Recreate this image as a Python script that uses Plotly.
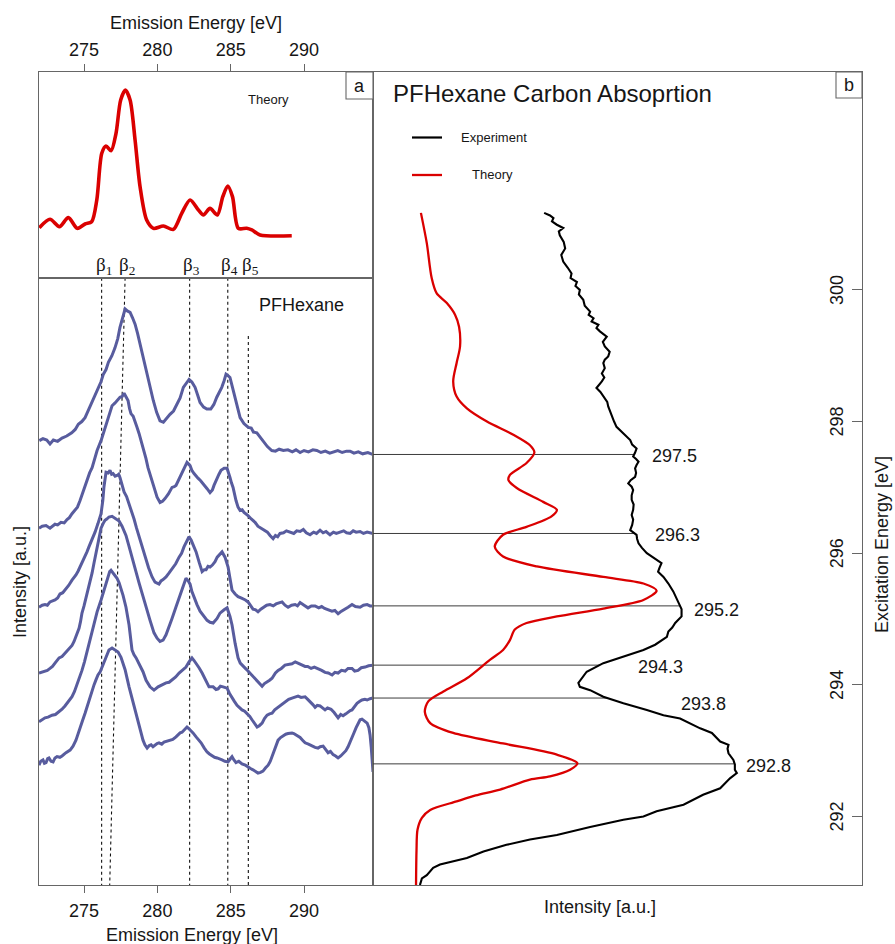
import numpy as np
import plotly.graph_objects as go

# ---------------------------------------------------------------- data
emission_ticks = [275, 280, 285, 290]
excitation_ticks = [292, 294, 296, 298, 300]

# panel a, top: calculated emission spectrum (arb. units)
theory_emission_energy = [271.95, 272.68, 273.32, 273.93, 274.54, 275.07, 275.52, 275.87, 276.21, 276.50,
                          276.84, 277.18, 277.50, 277.82, 278.14, 278.48, 278.82, 279.27, 279.73, 280.41,
                          281.09, 281.66, 282.23, 282.80, 283.14, 283.59, 284.09, 284.46, 284.80, 285.12,
                          285.52, 286.09, 286.44, 287.00, 289.16]
theory_emission_intensity = [2.43, 2.84, 2.48, 2.92, 2.40, 2.61, 2.72, 3.78, 6.05, 6.40,
                             6.17, 7.02, 8.64, 9.12, 8.64, 6.69, 4.42, 2.80, 2.40, 2.51,
                             2.35, 3.13, 3.78, 3.29, 3.05, 3.37, 3.05, 3.94, 4.46, 3.94,
                             2.40, 2.40, 2.32, 2.08, 2.04]

# panel a, bottom: measured emission spectra, (emission energy, intensity) per excitation energy
excitation_energies = [297.5, 296.3, 295.2, 294.3, 293.8, 292.8]

spectrum_297_5 = [
    (271.95, 0.21), (272.20, 0.24), (272.46, 0.22), (272.68, 0.16), (272.91, 0.22), (273.20, 0.20),
    (273.50, 0.25), (273.82, 0.28), (274.16, 0.33), (274.40, 0.38), (274.61, 0.46), (274.85, 0.50),
    (275.07, 0.56), (275.25, 0.65), (275.41, 0.74), (275.70, 0.86), (275.98, 1.02), (276.15, 1.10),
    (276.32, 1.22), (276.50, 1.29), (276.66, 1.40), (276.90, 1.50), (277.11, 1.62), (277.30, 1.76),
    (277.45, 1.93), (277.65, 2.10), (277.80, 2.21), (277.95, 2.18), (278.14, 2.16), (278.30, 2.08),
    (278.48, 1.98), (278.65, 1.84), (278.82, 1.67), (279.05, 1.45), (279.27, 1.22), (279.50, 1.02),
    (279.72, 0.82), (279.95, 0.64), (280.18, 0.51), (280.41, 0.49), (280.62, 0.55), (280.86, 0.61),
    (281.10, 0.66), (281.32, 0.76), (281.55, 0.86), (281.77, 1.02), (281.95, 1.08), (282.16, 1.14),
    (282.35, 1.10), (282.57, 1.02), (282.75, 0.90), (282.91, 0.79), (283.15, 0.72), (283.37, 0.69),
    (283.64, 0.69), (283.85, 0.76), (284.05, 0.87), (284.25, 0.95), (284.39, 1.02), (284.55, 1.12),
    (284.68, 1.22), (284.80, 1.20), (284.95, 1.17), (285.12, 1.02), (285.30, 0.87), (285.47, 0.70),
    (285.64, 0.56), (285.90, 0.47), (286.20, 0.41), (286.40, 0.40), (286.55, 0.34), (286.78, 0.33),
    (287.00, 0.27), (287.22, 0.21), (287.50, 0.12), (287.80, 0.06), (288.05, 0.05), (288.30, 0.08),
    (288.59, 0.06), (288.90, 0.07), (289.20, 0.04), (289.45, 0.07), (289.73, 0.03), (290.00, 0.06),
    (290.30, 0.04), (290.60, 0.07), (290.87, 0.06), (291.15, 0.03), (291.45, 0.05), (291.75, 0.02),
    (292.00, 0.04), (292.30, 0.06), (292.60, 0.03), (292.90, 0.05), (293.14, 0.05), (293.40, 0.02),
    (293.70, 0.04), (294.00, 0.01), (294.35, 0.03), (294.68, 0.00)]

spectrum_296_3 = [
    (271.93, 0.08), (272.15, 0.11), (272.41, 0.12), (272.68, 0.08), (273.02, 0.14), (273.20, 0.13),
    (273.43, 0.17), (273.65, 0.16), (273.84, 0.21), (274.00, 0.24), (274.18, 0.30), (274.39, 0.35),
    (274.55, 0.40), (274.73, 0.50), (275.00, 0.68), (275.20, 0.81), (275.38, 0.92), (275.55, 1.00),
    (275.70, 1.12), (275.89, 1.26), (276.16, 1.41), (276.35, 1.55), (276.57, 1.72), (276.75, 1.85),
    (276.91, 1.94), (277.10, 1.98), (277.25, 2.02), (277.45, 2.07), (277.60, 2.08), (277.73, 2.13),
    (277.85, 2.08), (278.00, 2.02), (278.10, 1.90), (278.20, 1.82), (278.35, 1.78), (278.48, 1.71),
    (278.60, 1.62), (278.75, 1.52), (278.90, 1.40), (279.09, 1.26), (279.22, 1.14), (279.36, 1.00),
    (279.52, 0.88), (279.70, 0.76), (279.85, 0.64), (279.98, 0.55), (280.18, 0.47), (280.35, 0.49),
    (280.52, 0.53), (280.75, 0.60), (281.00, 0.70), (281.15, 0.71), (281.27, 0.73), (281.40, 0.79),
    (281.55, 0.85), (281.70, 0.92), (281.82, 0.99), (282.02, 1.08), (282.23, 1.03), (282.35, 0.96),
    (282.50, 0.91), (282.65, 0.86), (282.77, 0.84), (282.95, 0.80), (283.11, 0.76), (283.25, 0.72),
    (283.39, 0.68), (283.59, 0.62), (283.75, 0.66), (283.86, 0.73), (284.07, 0.85), (284.20, 0.90),
    (284.34, 0.96), (284.55, 0.99), (284.75, 0.99), (284.85, 0.93), (284.95, 0.85), (285.05, 0.77),
    (285.16, 0.70), (285.36, 0.50), (285.50, 0.40), (285.64, 0.35), (285.78, 0.36), (285.91, 0.32),
    (286.05, 0.30), (286.18, 0.27), (286.40, 0.22), (286.66, 0.17), (286.85, 0.11), (287.00, 0.09),
    (287.20, 0.07), (287.34, 0.05), (287.50, 0.02), (287.68, -0.03), (287.89, -0.08), (288.05, -0.03),
    (288.20, -0.05), (288.36, 0.00), (288.60, 0.01), (288.80, 0.04), (289.05, 0.02), (289.30, 0.00),
    (289.50, 0.04), (289.73, 0.03), (289.95, 0.06), (290.15, 0.01), (290.41, -0.02), (290.65, 0.02),
    (290.85, 0.00), (291.09, 0.05), (291.30, 0.01), (291.50, 0.03), (291.77, -0.02), (292.00, 0.02),
    (292.20, 0.00), (292.45, 0.02), (292.70, 0.04), (292.90, 0.01), (293.14, 0.00), (293.35, 0.04),
    (293.55, 0.02), (293.82, 0.03), (294.05, 0.00), (294.30, 0.02), (294.50, 0.01), (294.70, 0.00)]

spectrum_295_2 = [
    (271.93, -0.02), (272.15, 0.01), (272.34, 0.02), (272.50, 0.01), (272.68, 0.06), (272.85, 0.07),
    (273.02, 0.09), (273.20, 0.12), (273.36, 0.18), (273.55, 0.20), (273.77, 0.26), (273.95, 0.31),
    (274.18, 0.39), (274.30, 0.42), (274.45, 0.47), (274.60, 0.53), (274.73, 0.59), (274.90, 0.66),
    (275.07, 0.74), (275.20, 0.82), (275.34, 0.90), (275.55, 1.00), (275.75, 1.12), (275.95, 1.25),
    (276.16, 1.40), (276.28, 1.60), (276.36, 1.81), (276.50, 2.03), (276.65, 2.02), (276.77, 2.06),
    (276.88, 2.00), (276.98, 2.01), (277.12, 1.97), (277.25, 1.98), (277.36, 2.00), (277.45, 1.95),
    (277.60, 1.82), (277.73, 1.73), (277.90, 1.66), (278.07, 1.55), (278.25, 1.43), (278.41, 1.32),
    (278.58, 1.18), (278.75, 1.05), (278.95, 0.90), (279.16, 0.74), (279.40, 0.58), (279.64, 0.44),
    (279.84, 0.36), (280.11, 0.33), (280.25, 0.38), (280.39, 0.40), (280.59, 0.44), (280.80, 0.50),
    (281.00, 0.56), (281.25, 0.64), (281.48, 0.74), (281.65, 0.80), (281.82, 0.90), (282.00, 0.98),
    (282.16, 1.05), (282.30, 1.00), (282.43, 0.93), (282.64, 0.82), (282.85, 0.66), (283.05, 0.52),
    (283.20, 0.55), (283.32, 0.55), (283.45, 0.60), (283.59, 0.59), (283.75, 0.62), (283.93, 0.67),
    (284.08, 0.74), (284.20, 0.77), (284.41, 0.82), (284.61, 0.74), (284.82, 0.59), (284.95, 0.42),
    (285.09, 0.24), (285.30, 0.18), (285.50, 0.14), (285.70, 0.12), (285.84, 0.11), (286.00, 0.09),
    (286.18, 0.06), (286.35, 0.00), (286.52, -0.05), (286.70, -0.06), (286.86, -0.09), (287.05, -0.05),
    (287.27, -0.02), (287.45, 0.01), (287.68, 0.02), (287.90, 0.00), (288.09, 0.03), (288.30, 0.05),
    (288.50, 0.06), (288.70, 0.01), (288.91, -0.02), (289.15, 0.01), (289.39, 0.02), (289.55, 0.00),
    (289.73, 0.05), (290.00, 0.01), (290.27, -0.03), (290.50, 0.00), (290.75, 0.00), (291.00, -0.03),
    (291.20, -0.01), (291.40, -0.04), (291.64, -0.06), (291.90, -0.08), (292.10, -0.07), (292.32, -0.12),
    (292.55, -0.08), (292.80, -0.05), (293.00, -0.02), (293.27, 0.02), (293.50, -0.01), (293.82, -0.02),
    (294.05, 0.01), (294.30, 0.02), (294.50, 0.00), (294.70, 0.00)]

spectrum_294_3 = [
    (271.93, -0.12), (272.15, -0.10), (272.34, -0.09), (272.50, -0.08), (272.68, -0.05), (272.85, -0.02),
    (273.02, 0.03), (273.15, 0.06), (273.30, 0.11), (273.50, 0.13), (273.70, 0.18), (273.95, 0.24),
    (274.18, 0.30), (274.32, 0.36), (274.45, 0.44), (274.56, 0.49), (274.66, 0.56), (274.76, 0.66),
    (274.86, 0.79), (275.00, 0.90), (275.14, 1.02), (275.27, 1.13), (275.41, 1.25), (275.55, 1.40),
    (275.68, 1.55), (275.82, 1.70), (275.95, 1.85), (276.05, 1.97), (276.16, 2.08), (276.30, 2.15),
    (276.43, 2.20), (276.55, 2.22), (276.70, 2.25), (276.91, 2.26), (277.05, 2.24), (277.18, 2.23),
    (277.39, 2.19), (277.59, 2.11), (277.86, 1.97), (278.05, 1.82), (278.27, 1.63), (278.50, 1.44),
    (278.75, 1.25), (279.00, 1.06), (279.23, 0.87), (279.50, 0.68), (279.77, 0.49), (279.98, 0.41),
    (280.18, 0.36), (280.39, 0.38), (280.59, 0.46), (280.80, 0.58), (281.00, 0.71), (281.25, 0.87),
    (281.48, 1.02), (281.62, 1.12), (281.75, 1.20), (281.95, 1.32), (282.10, 1.28), (282.23, 1.23),
    (282.35, 1.12), (282.50, 1.02), (282.70, 0.92), (282.91, 0.82), (283.15, 0.74), (283.39, 0.68),
    (283.59, 0.65), (283.80, 0.64), (284.07, 0.71), (284.27, 0.79), (284.55, 0.84), (284.75, 0.87),
    (284.95, 0.74), (285.09, 0.61), (285.30, 0.33), (285.50, 0.11), (285.65, 0.03), (285.84, -0.02),
    (286.00, -0.05), (286.18, -0.09), (286.40, -0.14), (286.66, -0.20), (286.90, -0.26), (287.14, -0.32),
    (287.30, -0.28), (287.48, -0.26), (287.65, -0.23), (287.82, -0.20), (288.05, -0.12), (288.23, -0.08),
    (288.45, -0.05), (288.70, 0.00), (288.95, 0.01), (289.18, 0.02), (289.40, 0.05), (289.59, 0.03),
    (289.80, 0.00), (290.07, -0.02), (290.25, -0.02), (290.48, -0.05), (290.70, -0.03), (290.95, -0.05),
    (291.20, -0.08), (291.43, -0.11), (291.65, -0.12), (291.91, -0.15), (292.10, -0.11), (292.32, -0.12),
    (292.55, -0.08), (292.80, -0.09), (293.00, -0.05), (293.27, -0.05), (293.45, -0.09), (293.68, -0.08),
    (293.90, -0.04), (294.16, -0.03), (294.40, -0.01), (294.70, 0.00)]

spectrum_293_8 = [
    (271.93, -0.36), (272.15, -0.32), (272.34, -0.30), (272.55, -0.29), (272.82, -0.26), (273.05, -0.25),
    (273.30, -0.21), (273.50, -0.17), (273.70, -0.12), (273.95, -0.05), (274.18, 0.02), (274.35, 0.10),
    (274.52, 0.20), (274.70, 0.30), (274.86, 0.42), (275.03, 0.55), (275.20, 0.70), (275.38, 0.86),
    (275.55, 1.03), (275.72, 1.18), (275.89, 1.31), (276.16, 1.49), (276.30, 1.60), (276.43, 1.69),
    (276.64, 1.87), (276.75, 1.92), (276.84, 1.94), (276.98, 1.90), (277.11, 1.87), (277.25, 1.82),
    (277.39, 1.75), (277.52, 1.66), (277.66, 1.56), (277.86, 1.38), (278.07, 1.11), (278.27, 0.73),
    (278.40, 0.66), (278.55, 0.61), (278.75, 0.53), (279.02, 0.40), (279.23, 0.27), (279.50, 0.17),
    (279.77, 0.12), (280.05, 0.17), (280.32, 0.20), (280.59, 0.23), (280.80, 0.24), (281.00, 0.27),
    (281.25, 0.32), (281.48, 0.38), (281.75, 0.43), (281.95, 0.47), (282.16, 0.55), (282.36, 0.61),
    (282.50, 0.57), (282.64, 0.53), (282.84, 0.46), (283.05, 0.38), (283.32, 0.27), (283.52, 0.17),
    (283.80, 0.17), (284.00, 0.13), (284.14, 0.14), (284.30, 0.18), (284.48, 0.17), (284.75, 0.15),
    (284.92, 0.07), (285.09, 0.00), (285.25, -0.05), (285.43, -0.11), (285.60, -0.15), (285.77, -0.18),
    (285.95, -0.20), (286.11, -0.23), (286.30, -0.28), (286.45, -0.33), (286.62, -0.38), (286.80, -0.44),
    (286.95, -0.42), (287.14, -0.38), (287.30, -0.31), (287.48, -0.26), (287.65, -0.24), (287.82, -0.23),
    (288.00, -0.18), (288.23, -0.14), (288.45, -0.10), (288.70, -0.06), (288.95, -0.02), (289.18, 0.00),
    (289.40, 0.02), (289.59, 0.03), (289.80, 0.01), (290.07, 0.02), (290.25, -0.02), (290.41, -0.05),
    (290.60, -0.10), (290.75, -0.14), (290.90, -0.11), (291.09, -0.12), (291.25, -0.15), (291.43, -0.18),
    (291.60, -0.15), (291.84, -0.17), (292.05, -0.22), (292.32, -0.30), (292.50, -0.25), (292.66, -0.27),
    (292.85, -0.24), (293.00, -0.21), (293.15, -0.19), (293.27, -0.18), (293.45, -0.13), (293.61, -0.08),
    (293.80, -0.05), (293.95, -0.03), (294.15, -0.02), (294.30, -0.03), (294.50, -0.01), (294.70, 0.00)]

spectrum_292_8 = [
    (271.93, -0.02), (272.05, 0.04), (272.20, 0.06), (272.30, 0.01), (272.41, 0.02), (272.52, 0.08),
    (272.61, 0.09), (272.75, 0.04), (272.89, 0.03), (273.02, 0.09), (273.16, 0.11), (273.35, 0.10),
    (273.50, 0.12), (273.65, 0.15), (273.77, 0.17), (274.05, 0.21), (274.25, 0.27), (274.45, 0.36),
    (274.60, 0.45), (274.73, 0.55), (274.90, 0.66), (275.07, 0.77), (275.20, 0.87), (275.34, 0.97),
    (275.50, 1.08), (275.68, 1.20), (275.82, 1.28), (275.95, 1.35), (276.10, 1.40), (276.23, 1.47),
    (276.36, 1.55), (276.50, 1.63), (276.70, 1.73), (276.91, 1.76), (277.11, 1.73), (277.32, 1.70),
    (277.52, 1.62), (277.66, 1.53), (277.80, 1.43), (278.07, 1.17), (278.25, 1.02), (278.41, 0.87),
    (278.58, 0.71), (278.75, 0.56), (279.02, 0.36), (279.15, 0.29), (279.30, 0.24), (279.45, 0.28),
    (279.57, 0.29), (279.70, 0.26), (279.84, 0.29), (279.98, 0.31), (280.11, 0.32), (280.30, 0.30),
    (280.45, 0.33), (280.65, 0.34), (280.86, 0.36), (281.05, 0.37), (281.27, 0.41), (281.40, 0.44),
    (281.55, 0.47), (281.68, 0.48), (281.82, 0.52), (282.02, 0.56), (282.12, 0.54), (282.23, 0.52),
    (282.43, 0.47), (282.64, 0.41), (282.80, 0.37), (282.98, 0.32), (283.20, 0.24), (283.39, 0.18),
    (283.55, 0.15), (283.73, 0.12), (283.90, 0.10), (284.07, 0.09), (284.25, 0.08), (284.41, 0.06),
    (284.60, 0.04), (284.82, 0.03), (284.95, 0.07), (285.09, 0.11), (285.22, 0.06), (285.36, 0.02),
    (285.55, 0.04), (285.77, 0.00), (286.00, -0.02), (286.18, -0.05), (286.35, -0.07), (286.52, -0.09),
    (286.70, -0.12), (286.86, -0.14), (287.03, -0.13), (287.20, -0.11), (287.38, -0.06), (287.55, -0.02),
    (287.70, 0.04), (287.82, 0.11), (288.02, 0.21), (288.23, 0.36), (288.40, 0.40), (288.57, 0.43),
    (288.75, 0.45), (288.91, 0.46), (289.18, 0.47), (289.30, 0.46), (289.45, 0.44), (289.60, 0.42),
    (289.73, 0.40), (289.90, 0.36), (290.07, 0.32), (290.30, 0.30), (290.55, 0.27), (290.75, 0.25),
    (290.95, 0.24), (291.10, 0.26), (291.30, 0.27), (291.45, 0.22), (291.64, 0.17), (291.80, 0.19),
    (291.98, 0.14), (292.15, 0.12), (292.32, 0.09), (292.50, 0.12), (292.66, 0.15), (292.85, 0.20),
    (293.00, 0.26), (293.15, 0.33), (293.27, 0.40), (293.42, 0.48), (293.55, 0.55), (293.70, 0.62),
    (293.82, 0.67), (293.95, 0.68), (294.09, 0.65), (294.20, 0.64), (294.30, 0.62), (294.42, 0.55),
    (294.50, 0.44), (294.58, 0.25), (294.64, 0.06), (294.70, -0.12)]

emission_spectra = [spectrum_297_5, spectrum_296_3, spectrum_295_2,
                    spectrum_294_3, spectrum_293_8, spectrum_292_8]

# emission features and their guide lines
beta_labels = ["β<sub>1</sub>", "β<sub>2</sub>", "β<sub>3</sub>", "β<sub>4</sub>", "β<sub>5</sub>"]
beta_energies = [276.2, 277.8, 282.2, 284.8, 286.2]
beta_energies_lowest = [276.2, 276.75, 282.2, 284.8, 286.2]   # guide position at the lowest excitation
beta_guide_start = [None, None, None, None, 299.3]            # excitation energy where a guide begins

# panel b: carbon absorption, measured (excitation energy, intensity)
absorption_experiment_curve = [
    (301.17, 3.50), (301.13, 3.62), (301.09, 3.69), (301.04, 3.66), (300.99, 3.76), (300.94, 3.89),
    (300.89, 3.80), (300.83, 3.82), (300.73, 3.90), (300.63, 3.93), (300.53, 3.85), (300.43, 3.89),
    (300.34, 3.98), (300.25, 4.06), (300.18, 4.04), (300.12, 4.17), (300.06, 4.14), (300.00, 4.23),
    (299.93, 4.21), (299.85, 4.30), (299.76, 4.33), (299.67, 4.44), (299.62, 4.41), (299.57, 4.51),
    (299.52, 4.47), (299.47, 4.61), (299.42, 4.57), (299.37, 4.64), (299.29, 4.78), (299.21, 4.70),
    (299.14, 4.74), (299.06, 4.84), (298.99, 4.81), (298.94, 4.74), (298.89, 4.71), (298.81, 4.74),
    (298.73, 4.68), (298.67, 4.73), (298.61, 4.68), (298.56, 4.62), (298.51, 4.57), (298.45, 4.65),
    (298.38, 4.71), (298.30, 4.79), (298.23, 4.81), (298.15, 4.85), (298.07, 4.88), (298.00, 4.93),
    (297.92, 4.98), (297.82, 5.12), (297.72, 5.26), (297.65, 5.30), (297.59, 5.39), (297.53, 5.36),
    (297.47, 5.32), (297.43, 5.38), (297.39, 5.43), (297.34, 5.39), (297.29, 5.36), (297.22, 5.38),
    (297.16, 5.36), (297.11, 5.27), (297.06, 5.22), (297.01, 5.29), (296.96, 5.32), (296.88, 5.29),
    (296.81, 5.29), (296.74, 5.33), (296.66, 5.32), (296.58, 5.29), (296.51, 5.32), (296.43, 5.30),
    (296.35, 5.26), (296.28, 5.39), (296.22, 5.40), (296.15, 5.43), (296.08, 5.50), (296.00, 5.60),
    (295.95, 5.70), (295.90, 5.80), (295.85, 5.90), (295.78, 5.86), (295.72, 5.83), (295.64, 5.94),
    (295.54, 6.04), (295.42, 6.14), (295.27, 6.24), (295.15, 6.31), (295.04, 6.31), (294.94, 6.18),
    (294.87, 6.12), (294.81, 6.04), (294.73, 6.01), (294.67, 5.90), (294.61, 5.77), (294.53, 5.53),
    (294.43, 5.12), (294.33, 4.71), (294.20, 4.37), (294.03, 4.20), (293.97, 4.23), (293.92, 4.44),
    (293.82, 4.71), (293.72, 5.12), (293.62, 5.60), (293.54, 5.94), (293.49, 6.28), (293.34, 6.69),
    (293.27, 6.93), (293.14, 7.10), (293.09, 7.27), (293.03, 7.25), (292.96, 7.27), (292.86, 7.37),
    (292.79, 7.40), (292.71, 7.40), (292.66, 7.44), (292.58, 7.30), (292.43, 7.10), (292.33, 6.75),
    (292.18, 6.35), (292.08, 5.80), (292.00, 5.53), (291.95, 5.12), (291.84, 4.44), (291.72, 3.76),
    (291.65, 3.21), (291.57, 2.73), (291.47, 2.26), (291.37, 1.92), (291.27, 1.37), (291.22, 1.23),
    (291.11, 1.10), (291.06, 1.00), (290.96, 0.96)]

# panel b: carbon absorption, calculated
absorption_theory_energy = [301.17, 300.71, 300.18, 299.95, 299.80, 299.62, 299.44, 299.14, 298.89, 298.61,
                            298.38, 298.20, 298.00, 297.80, 297.64, 297.53, 297.37, 297.19, 297.11, 296.99,
                            296.78, 296.66, 296.56, 296.40, 296.28, 296.10, 295.95, 295.80, 295.64, 295.54,
                            295.43, 295.29, 295.16, 295.04, 294.94, 294.84, 294.68, 294.53, 294.38, 294.10,
                            293.90, 293.75, 293.59, 293.42, 293.27, 293.11, 292.94, 292.81, 292.71, 292.61,
                            292.56, 292.41, 292.32, 292.23, 292.10, 291.98, 291.80, 291.49, 290.96]
absorption_theory = [0.98, 1.10, 1.20, 1.30, 1.51, 1.68, 1.76, 1.78, 1.71, 1.64,
                     1.71, 1.92, 2.33, 2.87, 3.21, 3.30, 3.14, 2.80, 2.77, 2.94,
                     3.48, 3.76, 3.65, 3.14, 2.66, 2.49, 2.66, 3.35, 4.71, 5.53,
                     5.80, 5.53, 4.71, 3.76, 3.14, 2.90, 2.80, 2.66, 2.39, 1.92,
                     1.44, 1.13, 1.06, 1.17, 1.64, 2.66, 3.76, 4.18, 4.03, 3.62,
                     3.21, 2.60, 2.10, 1.71, 1.17, 1.00, 0.91, 0.89, 0.88]

# ---------------------------------------------------------------- style
FONT = "Liberation Sans, Arial, Helvetica, sans-serif"
SERIF = "Liberation Serif, Times New Roman, serif"
FRAME = "#666666"
INK = "#161616"
SPEC_COLOR = "#585c9e"
RED = "#da0000"

W, H = 895, 944
M_L, M_R, M_T, M_B = 39, 33, 72, 59
plot_w = W - M_L - M_R
plot_h = H - M_T - M_B


def px_x(px):
    return (px - M_L) / plot_w


def px_y(py):
    return (H - M_B - py) / plot_h


split_x = px_x(373)
split_y = px_y(277.7)

EMISSION_RANGE = [271.93, 294.70]
EXC_LO, EXC_HI = 290.96, 303.31
stack_top = EXC_LO + (EXC_HI - EXC_LO) * split_y

# value labels next to the absorption curve: x anchor (panel b units), vertical nudge (px)
value_label_x = [5.66, 5.72, 6.53, 5.37, 6.26, 7.59]
value_label_yshift = [-2, -2, -4, -2, -6, -2]

fig = go.Figure()

# ---------------------------------------------------------------- panel a, top
fig.add_trace(go.Scatter(x=theory_emission_energy, y=theory_emission_intensity,
                         mode="lines", line=dict(color=RED, width=3.6, shape="spline", smoothing=0.8),
                         xaxis="x2", yaxis="y2", showlegend=False, hoverinfo="skip"))

# ---------------------------------------------------------------- panel a, stacked spectra
for lo, hi, start in zip(beta_energies_lowest, beta_energies, beta_guide_start):
    top = stack_top if start is None else start
    fig.add_trace(go.Scatter(x=[hi, lo], y=[top, EXC_LO], mode="lines",
                             line=dict(color="#111111", width=1.1, dash="3px,3px"),
                             xaxis="x", yaxis="y", showlegend=False, hoverinfo="skip"))

for offset, spec in zip(excitation_energies, emission_spectra):
    e = [p[0] for p in spec]
    inten = [offset + p[1] for p in spec]
    fig.add_trace(go.Scatter(x=e, y=inten, mode="lines",
                             line=dict(color=SPEC_COLOR, width=3),
                             xaxis="x", yaxis="y", showlegend=False, hoverinfo="skip"))

# ---------------------------------------------------------------- panel b
exp_e = np.array([p[0] for p in absorption_experiment_curve])
exp_i = np.array([p[1] for p in absorption_experiment_curve])
order = np.argsort(exp_e)
for energy in excitation_energies:
    reach = float(np.interp(energy, exp_e[order], exp_i[order]))
    fig.add_trace(go.Scatter(x=[0, reach], y=[energy, energy], mode="lines",
                             line=dict(color="#3c3c3c", width=1),
                             xaxis="x3", yaxis="y3", showlegend=False, hoverinfo="skip"))

fig.add_trace(go.Scatter(x=absorption_theory, y=absorption_theory_energy, mode="lines",
                         line=dict(color=RED, width=2.3, shape="spline", smoothing=0.8),
                         xaxis="x3", yaxis="y3", showlegend=False, hoverinfo="skip"))
fig.add_trace(go.Scatter(x=exp_i, y=exp_e, mode="lines",
                         line=dict(color="#000000", width=2.1),
                         xaxis="x3", yaxis="y3", showlegend=False, hoverinfo="skip"))

# ---------------------------------------------------------------- axes
frame = dict(showgrid=False, zeroline=False, showline=True, linecolor=FRAME,
             linewidth=1.1, mirror=True, automargin=False)
tickfont = dict(size=18, family=FONT, color=INK)

fig.update_layout(
    width=W, height=H, template="none",
    margin=dict(l=M_L, r=M_R, t=M_T, b=M_B, pad=0),
    paper_bgcolor="white", plot_bgcolor="white",
    font=dict(family=FONT, color=INK),
    showlegend=False,
    xaxis=dict(domain=[0, split_x], range=EMISSION_RANGE, anchor="y",
               tickvals=emission_ticks, ticks="outside", ticklen=7, tickwidth=1.1,
               tickcolor=FRAME, tickfont=tickfont, ticklabelstandoff=2, **frame),
    yaxis=dict(domain=[0, split_y], range=[EXC_LO, stack_top], anchor="x",
               showticklabels=False, ticks="", **frame),
    xaxis2=dict(domain=[0, split_x], range=EMISSION_RANGE, anchor="y2", side="top",
                tickvals=emission_ticks, ticks="outside", ticklen=7, tickwidth=1.1,
                tickcolor=FRAME, tickfont=tickfont, ticklabelstandoff=1, **frame),
    yaxis2=dict(domain=[split_y, 1], range=[0, 10], anchor="x2",
                showticklabels=False, ticks="", **frame),
    xaxis3=dict(domain=[split_x, 1], range=[0, 10], anchor="y3",
                showticklabels=False, ticks="", **frame),
    yaxis3=dict(domain=[0, 1], range=[EXC_LO, EXC_HI], anchor="x3", side="right",
                tickvals=excitation_ticks, ticks="inside", ticklen=10, tickwidth=1.1,
                tickcolor=FRAME, showticklabels=False, **frame),
)

# ---------------------------------------------------------------- text
ann = []


def text(x, y, s, size=18, xanchor="center", yanchor="middle", angle=0, family=FONT,
         xref="paper", yref="paper", xshift=0, yshift=0):
    ann.append(dict(x=x, y=y, xref=xref, yref=yref, text=s, showarrow=False,
                    xanchor=xanchor, yanchor=yanchor, textangle=angle,
                    xshift=xshift, yshift=yshift,
                    font=dict(size=size, family=family, color=INK)))


text(px_x(196), px_y(23), "Emission Energy [eV]")
text(px_x(192), px_y(935), "Emission Energy [eV]")
text(px_x(20), px_y(582), "Intensity [a.u.]", angle=-90)
text(px_x(600), px_y(907), "Intensity [a.u.]")
text(px_x(882), px_y(545), "Excitation Energy [eV]", angle=-90)
text(px_x(391), px_y(94), "PFHexane Carbon Absoprtion", size=24, xanchor="left")
text(px_x(268), px_y(100), "Theory", size=13)
text(px_x(301), px_y(305), "PFHexane", size=18)
text(px_x(459), px_y(137), "Experiment", size=13, xanchor="left")
text(px_x(470), px_y(175), "Theory", size=13, xanchor="left")
text(px_x(359.5), px_y(86), "a", size=18)
text(px_x(849), px_y(85), "b", size=18)

# excitation-energy tick labels, rotated, just inside the right frame
for t in excitation_ticks:
    text(px_x(837), t, str(t), size=18, angle=-90, yref="y3")

for lab, e in zip(beta_labels, beta_energies):
    text(e, px_y(266), lab, size=19, family=SERIF, xref="x2", xshift=2)

for energy, lx, dy in zip(excitation_energies, value_label_x, value_label_yshift):
    text(lx, energy, f"{energy:.1f}", size=18, xanchor="left", xref="x3", yref="y3", yshift=dy)

fig.update_layout(annotations=ann)

# ---------------------------------------------------------------- boxes and legend keys
shapes = [
    dict(type="rect", xref="paper", yref="paper", x0=px_x(346), x1=px_x(373), y0=px_y(99), y1=px_y(72),
         line=dict(color=FRAME, width=1.1), fillcolor="white", layer="above"),
    dict(type="rect", xref="paper", yref="paper", x0=px_x(836), x1=px_x(862), y0=px_y(98), y1=px_y(72),
         line=dict(color=FRAME, width=1.1), fillcolor="white", layer="above"),
    dict(type="line", xref="paper", yref="paper", x0=px_x(412), x1=px_x(442), y0=px_y(137.5), y1=px_y(137.5),
         line=dict(color="#000000", width=2.2)),
    dict(type="line", xref="paper", yref="paper", x0=px_x(412), x1=px_x(442), y0=px_y(175), y1=px_y(175),
         line=dict(color=RED, width=2.3)),
]
fig.update_layout(shapes=shapes)

fig.write_html("out.html")
